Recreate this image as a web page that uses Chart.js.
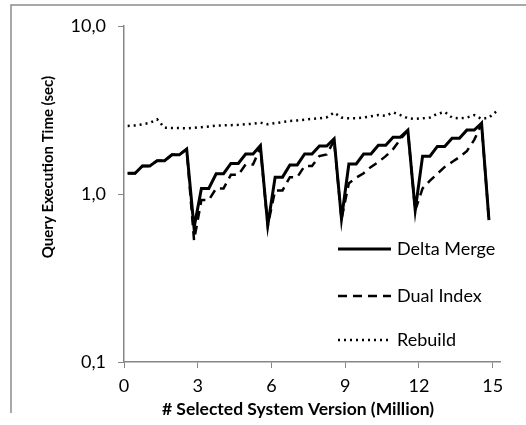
<!DOCTYPE html>
<html>
<head>
<meta charset="utf-8">
<script src="https://cdn.jsdelivr.net/npm/chart.js@4"></script>
<style>
    html, body { margin: 0; padding: 0; background: #fff; }
    #wrap { width: 526px; height: 425px; }
</style>
</head>
<body>
<div id="wrap"><canvas id="queryChart" width="526" height="425"></canvas></div>
<script>
// x positions (million versions), one per measurement
const versions = [
    0.15, 0.45, 0.75, 1.05, 1.35, 1.65, 1.95, 2.25, 2.55, 2.85,
    3.15, 3.45, 3.75, 4.05, 4.35, 4.65, 4.95, 5.25, 5.55, 5.85,
    6.15, 6.45, 6.75, 7.05, 7.35, 7.65, 7.95, 8.25, 8.55, 8.85,
    9.15, 9.45, 9.75, 10.05, 10.35, 10.65, 10.95, 11.25, 11.55, 11.85,
    12.15, 12.45, 12.75, 13.05, 13.35, 13.65, 13.95, 14.25, 14.55, 14.85,
    15.15
];

// query time in seconds
const deltaMerge = [
    1.33, 1.33, 1.47, 1.47, 1.58, 1.58, 1.71, 1.71, 1.85, 0.63,
    1.08, 1.08, 1.32, 1.32, 1.52, 1.52, 1.73, 1.73, 1.94, 0.65,
    1.26, 1.26, 1.49, 1.49, 1.73, 1.73, 1.93, 1.93, 2.13, 0.71,
    1.51, 1.51, 1.73, 1.73, 1.95, 1.95, 2.18, 2.18, 2.40, 0.80,
    1.68, 1.68, 1.92, 1.92, 2.15, 2.15, 2.40, 2.40, 2.64, 0.70
];

const dualIndex = [
    1.33, 1.33, 1.47, 1.47, 1.58, 1.58, 1.71, 1.71, 1.85, 0.53,
    0.92, 0.92, 1.08, 1.08, 1.30, 1.30, 1.50, 1.50, 1.88, 0.65,
    1.05, 1.05, 1.26, 1.26, 1.47, 1.47, 1.68, 1.72, 2.08, 0.71,
    1.16, 1.25, 1.33, 1.45, 1.55, 1.68, 1.85, 2.12, 2.38, 0.80,
    1.08, 1.20, 1.32, 1.45, 1.55, 1.66, 1.80, 2.10, 2.60, 0.70
];

const rebuild = [
    2.54, 2.56, 2.60, 2.65, 2.78, 2.48, 2.47, 2.47, 2.46, 2.48,
    2.50, 2.52, 2.55, 2.56, 2.57, 2.58, 2.60, 2.62, 2.66, 2.60,
    2.64, 2.68, 2.72, 2.74, 2.77, 2.80, 2.82, 2.86, 3.05, 2.85,
    2.82, 2.82, 2.85, 2.90, 2.95, 2.92, 3.06, 2.95, 2.82, 2.80,
    2.82, 2.85, 3.00, 3.08, 2.85, 2.82, 2.85, 2.95, 2.80, 2.85,
    3.10
];

const xTicks = [0, 3, 6, 9, 12, 15];
const yTicks = [0.1, 1, 10];

const seriesNames = ['Delta Merge', 'Dual Index', 'Rebuild'];

const FONT = 'Lato, "Liberation Sans", sans-serif';

function toPoints(values) {
    return values.map((v, i) => ({ x: versions[i], y: v }));
}

// white background + the gray frame on top/left
const framePlugin = {
    id: 'frame',
    beforeDraw(chart) {
        const ctx = chart.ctx;
        ctx.save();
        ctx.fillStyle = '#fff';
        ctx.fillRect(0, 0, chart.width, chart.height);
        ctx.strokeStyle = '#8c8c8c';
        ctx.lineWidth = 1.5;
        ctx.beginPath();
        ctx.moveTo(11, 413);
        ctx.lineTo(11, 5);
        ctx.lineTo(chart.width, 5);
        ctx.stroke();
        ctx.restore();
    }
};

// legend inside the plot + axis titles
const annotatePlugin = {
    id: 'annotate',
    afterDraw(chart) {
        const ctx = chart.ctx;
        const area = chart.chartArea;
        ctx.save();

        const lx0 = area.right - 162;
        const lx1 = area.right - 109;
        const rows = [area.top + 223, area.top + 270, area.top + 314];
        chart.data.datasets.forEach((ds, i) => {
            const y = rows[i];
            ctx.strokeStyle = ds.borderColor;
            ctx.lineWidth = ds.borderWidth;
            ctx.lineCap = ds.borderCapStyle || 'butt';
            ctx.setLineDash(ds.borderDash || []);
            ctx.beginPath();
            ctx.moveTo(lx0, y);
            ctx.lineTo(lx1, y);
            ctx.stroke();
            ctx.setLineDash([]);
            ctx.fillStyle = '#000';
            ctx.font = '18px ' + FONT;
            ctx.textAlign = 'left';
            ctx.textBaseline = 'middle';
            ctx.fillText(ds.label, lx1 + 6, y);
        });

        ctx.fillStyle = '#000';
        ctx.textAlign = 'center';
        ctx.textBaseline = 'middle';
        ctx.font = 'bold 17.5px ' + FONT;
        ctx.fillText('# Selected System Version (Million)', (area.left + area.right) / 2 - 14, 409);

        ctx.font = 'bold 15px ' + FONT;
        ctx.translate(48, 167);
        ctx.rotate(-Math.PI / 2);
        ctx.fillText('Query Execution Time (sec)', 0, 0);
        ctx.restore();
    }
};

const ctx = document.getElementById('queryChart').getContext('2d');
new Chart(ctx, {
    type: 'line',
    data: {
        datasets: [
            {
                label: seriesNames[0],
                data: toPoints(deltaMerge),
                borderColor: '#000',
                borderWidth: 3,
                order: 0
            },
            {
                label: seriesNames[1],
                data: toPoints(dualIndex),
                borderColor: '#000',
                borderWidth: 2.5,
                borderDash: [9, 6],
                order: 1
            },
            {
                label: seriesNames[2],
                data: toPoints(rebuild),
                borderColor: '#000',
                borderWidth: 2.5,
                borderDash: [2, 4],
                order: 2
            }
        ]
    },
    options: {
        responsive: false,
        animation: false,
        layout: { padding: { top: 26, right: 26, left: 0, bottom: 0 } },
        elements: {
            point: { radius: 0 },
            line: { tension: 0, borderJoinStyle: 'miter' }
        },
        plugins: {
            legend: { display: false },
            tooltip: { enabled: false }
        },
        scales: {
            x: {
                type: 'linear',
                min: 0,
                max: 15.3,
                afterFit(scale) { scale.height = 63; },
                afterBuildTicks(scale) { scale.ticks = xTicks.map(v => ({ value: v })); },
                grid: {
                    drawOnChartArea: false,
                    drawTicks: true,
                    tickLength: 6,
                    color: '#868686'
                },
                border: { color: '#868686', width: 1.5 },
                ticks: {
                    color: '#000',
                    padding: 7,
                    maxRotation: 0,
                    font: { family: FONT, size: 18 }
                }
            },
            y: {
                type: 'logarithmic',
                min: 0.1,
                max: 10,
                afterFit(scale) { scale.width = 124; },
                afterBuildTicks(scale) { scale.ticks = yTicks.map(v => ({ value: v, major: true })); },
                grid: {
                    drawOnChartArea: false,
                    drawTicks: true,
                    tickLength: 6,
                    color: '#868686'
                },
                border: { color: '#868686', width: 1.5 },
                ticks: {
                    color: '#000',
                    padding: 12,
                    font: { family: FONT, size: 18 },
                    callback: (v) => Number(v).toFixed(1).replace('.', ',')
                }
            }
        }
    },
    plugins: [framePlugin, annotatePlugin]
});
</script>
</body>
</html>
